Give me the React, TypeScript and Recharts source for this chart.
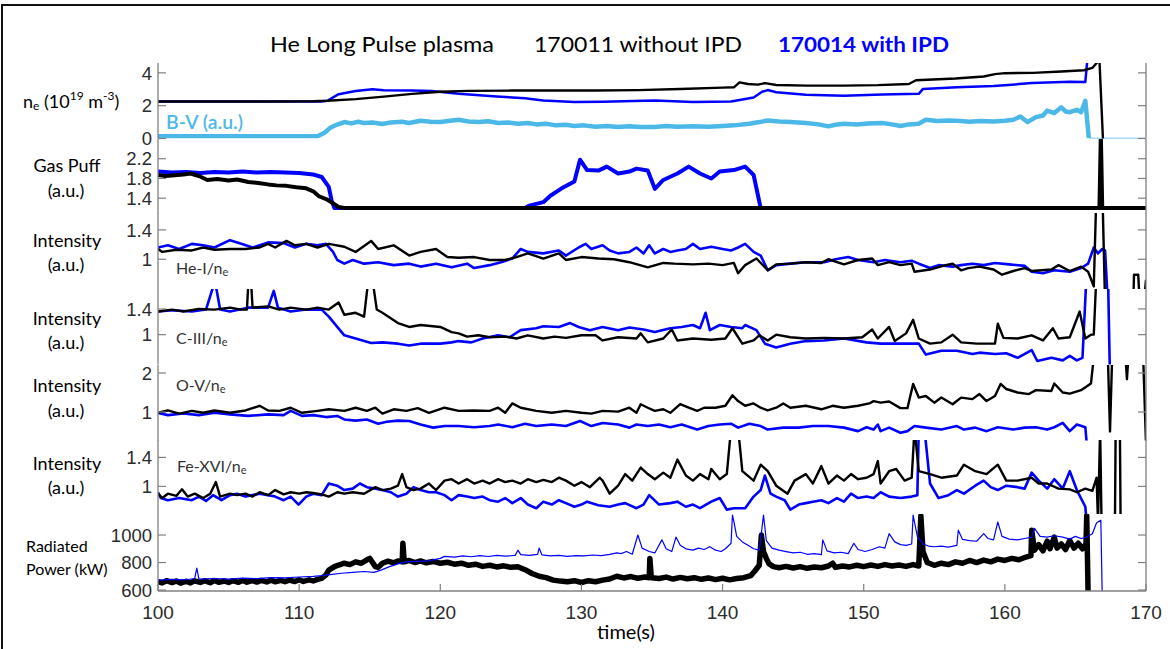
import React from 'react';
import { LineChart, Line, XAxis, YAxis } from 'recharts';

type Pts = [number, number][];

const timeTicks = [100, 110, 120, 130, 140, 150, 160, 170];

const neTicks = [0, 2, 4];
const gasTicks = [1.4, 1.8, 2.2];
const heTicks = [1, 1.4];
const cTicks = [1, 1.4];
const oTicks = [1, 2];
const feTicks = [1, 1.4];
const radTicks = [600, 800, 1000];

const neBlack: Pts = [[100,2.25],[105,2.25],[111,2.27],[112,2.3],[114,2.4],[116,2.55],[118,2.72],[120,2.85],[122,2.9],[125,2.92],[128,2.92],[131,2.92],[134,2.95],[137,3.02],[140,3.1],[140.8,3.12],[141.2,3.42],[141.8,3.32],[142.5,3.28],[143,3.37],[143.8,3.26],[146,3.22],[148.6,3.22],[151,3.25],[153.2,3.32],[153.7,3.55],[156.5,3.66],[158.5,3.78],[159.3,3.92],[160,3.98],[162,4.0],[164,4.08],[165.6,4.16],[166.2,4.3],[166.5,4.6],[166.7,4.8],[167.0,-1]];
const neBlue: Pts = [[100,2.25],[111.5,2.25],[112,2.3],[112.8,2.7],[114,2.9],[115.2,3.0],[116,2.94],[118,2.92],[119.4,2.9],[121.3,2.72],[124,2.56],[126,2.45],[127.3,2.32],[129.5,2.22],[131.5,2.24],[135.2,2.32],[137.9,2.22],[140.6,2.25],[142.2,2.5],[142.8,2.85],[143.2,2.95],[143.8,2.82],[145.9,2.66],[148.6,2.6],[151.3,2.68],[153.9,2.72],[154.2,3.02],[156.6,3.12],[159.2,3.2],[160.5,3.28],[161.9,3.38],[164.6,3.46],[165.7,3.44],[165.8,4.4],[165.9,5.2]];
const bvBlue: Pts = [[100,0.14],[105,0.14],[111.3,0.14],[111.8,0.35],[112.2,0.65],[112.7,0.85],[113.2,1.0],[113.7,0.92],[114.2,1.02],[114.6,0.94],[115.2,0.98],[115.9,0.88],[116.5,0.98],[117.3,1.02],[117.8,0.94],[118.6,1.08],[119.3,1.02],[120.0,1.0],[120.7,1.08],[121.3,1.14],[122.0,1.04],[122.7,1.0],[123.4,1.05],[124.1,0.94],[124.8,0.98],[125.5,0.9],[126.2,0.94],[126.8,0.86],[127.5,0.9],[128.2,0.8],[128.9,0.84],[129.5,0.76],[130.2,0.8],[131.0,0.72],[131.8,0.76],[132.6,0.7],[133.4,0.74],[134.2,0.7],[135.2,0.7],[136.0,0.76],[136.8,0.72],[137.9,0.74],[139.0,0.72],[140.0,0.76],[140.8,0.8],[141.9,0.9],[142.6,1.0],[143.2,1.1],[144.0,1.04],[144.8,1.0],[145.9,0.94],[146.8,0.86],[147.5,0.74],[148.0,0.84],[148.6,0.9],[149.5,0.86],[150.3,0.92],[151.3,0.94],[152.0,0.86],[152.6,0.76],[153.2,0.86],[153.9,0.9],[154.4,1.14],[155.2,1.06],[156.0,1.1],[156.6,1.08],[157.5,1.02],[158.3,1.06],[159.2,1.04],[160.0,1.08],[160.6,1.14],[161.1,1.34],[161.6,1.0],[162.2,1.3],[162.7,1.4],[163.0,1.7],[163.5,1.55],[164.0,1.9],[164.3,1.65],[164.6,1.6],[165.1,1.75],[165.4,1.6],[165.7,2.3],[165.95,0.03]];
const bvTail: Pts = [[165.95,0.0],[170,0.0]];

const gasBlack: Pts = [[100,1.87],[100.5,1.85],[101,1.86],[101.8,1.88],[102.3,1.9],[102.9,1.85],[103.5,1.77],[104.2,1.79],[105,1.76],[105.6,1.78],[106.4,1.73],[107.1,1.71],[107.8,1.68],[108.4,1.66],[109.1,1.65],[109.8,1.62],[110.5,1.6],[111,1.54],[111.4,1.44],[112,1.37],[112.5,1.28],[112.8,1.22],[113.2,1.2],[166.7,1.2],[166.8,2.7],[166.9,1.2],[170,1.2]];
const gasBlue: Pts = [[100,1.94],[101,1.92],[102,1.93],[103,1.91],[104,1.93],[105,1.92],[106,1.94],[107,1.92],[108,1.93],[109,1.92],[110,1.91],[111,1.88],[111.6,1.83],[112.1,1.63],[112.3,1.35],[112.5,1.2],[126,1.2],[126.3,1.25],[127.3,1.32],[127.8,1.45],[128.6,1.6],[129.5,1.74],[129.9,2.18],[130.4,1.97],[131.2,1.96],[131.8,2.04],[132.6,1.9],[133.4,1.94],[133.9,2.0],[134.7,1.96],[135.2,1.59],[135.8,1.77],[136.8,1.9],[137.6,2.04],[138.4,1.9],[139.2,1.8],[139.8,1.94],[140.8,1.97],[141.6,2.04],[142.2,1.87],[142.7,1.2],[166,1.2]];

const heBlack: Pts = [[100,1.14],[100.3,1.10],[101.3,1.13],[102.4,1.12],[103.2,1.16],[104.0,1.13],[105.1,1.14],[106.2,1.14],[107.2,1.16],[107.8,1.21],[108.3,1.16],[109.1,1.25],[109.7,1.19],[110.5,1.21],[111.3,1.16],[112.1,1.21],[113.2,1.17],[114.0,1.10],[115.1,1.25],[115.6,1.14],[116.7,1.19],[117.8,1.05],[118.6,1.10],[119.7,1.14],[120.5,1.03],[121.3,1.02],[122.4,1.03],[123.5,0.99],[124.6,0.99],[125.4,1.03],[126.2,1.08],[127.3,1.01],[128.4,1.08],[128.9,0.99],[130.0,1.03],[131.2,1.01],[132.3,1.0],[133.4,0.96],[134.7,0.89],[135.8,0.95],[136.6,0.94],[137.9,0.93],[139.0,0.94],[140.0,0.92],[140.8,0.95],[141.1,0.81],[141.6,0.92],[142.4,1.01],[143.2,0.85],[143.8,0.93],[144.8,0.94],[145.9,0.96],[147.0,0.95],[147.5,1.0],[148.6,0.93],[149.6,0.99],[150.6,1.01],[151.0,0.92],[151.8,0.96],[152.6,0.92],[153.4,0.94],[153.6,0.83],[154.7,0.86],[155.8,0.92],[156.3,0.94],[156.9,0.85],[157.4,0.88],[158.2,0.9],[159.2,0.86],[159.8,0.79],[160.6,0.84],[161.4,0.88],[161.9,0.84],[163.3,0.86],[163.8,0.92],[164.6,0.84],[165.4,0.9],[165.9,0.83],[166.3,0.63],[166.5,2.0],[166.9,2.0],[167.1,0.4],[169.1,0.4],[169.15,0.79],[169.45,0.79],[169.55,0.4],[169.85,0.4],[170,0.72]];
const heBlue: Pts = [[100,1.16],[100.7,1.19],[101.5,1.14],[102.4,1.21],[103.2,1.19],[104.0,1.16],[105.1,1.26],[105.9,1.21],[106.7,1.16],[107.8,1.23],[108.9,1.22],[109.7,1.16],[110.5,1.21],[111.3,1.19],[111.9,1.21],[112.4,1.10],[112.7,0.99],[113.2,0.94],[113.8,0.99],[114.6,0.94],[115.6,0.96],[116.7,0.92],[117.8,0.94],[118.6,0.9],[119.7,0.94],[120.8,0.89],[121.9,0.94],[122.4,0.88],[123.5,0.92],[124.3,0.96],[125.1,1.01],[125.7,1.14],[126.2,1.10],[127.3,1.08],[128.4,1.12],[128.9,1.05],[129.8,1.16],[130.3,1.21],[130.7,1.14],[131.5,1.19],[132.0,1.12],[132.6,1.08],[133.4,1.10],[133.9,1.16],[134.4,1.08],[134.8,1.19],[135.2,1.08],[135.8,1.14],[136.3,1.10],[136.8,1.12],[137.4,1.14],[137.9,1.21],[138.4,1.14],[139.2,1.17],[140.0,1.14],[140.6,1.12],[141.1,1.16],[141.6,1.21],[142.2,1.10],[142.7,1.05],[143.2,0.85],[143.8,0.92],[144.8,0.94],[145.9,0.96],[147.2,0.96],[148.0,1.0],[148.9,1.03],[149.6,0.99],[150.7,0.96],[151.5,0.99],[152.6,0.96],[153.4,0.98],[153.9,0.94],[154.7,0.88],[155.3,0.92],[156.3,0.9],[156.9,0.92],[157.7,0.94],[158.5,0.92],[159.3,0.95],[160.3,0.93],[161.4,0.91],[161.9,0.83],[162.7,0.81],[163.5,0.85],[164.6,0.83],[165.4,0.88],[165.9,0.94],[166.3,1.16],[166.6,1.08],[166.9,1.14],[167.1,1.12],[167.3,0.4]];

const cBlack: Pts = [[100,1.36],[101.0,1.39],[101.8,1.36],[102.9,1.40],[104.0,1.39],[105.1,1.42],[105.9,1.39],[106.3,1.39],[106.4,1.8],[106.6,1.8],[106.7,1.42],[107.8,1.44],[108.6,1.39],[109.4,1.42],[110.5,1.39],[111.3,1.42],[112.1,1.39],[112.8,1.5],[113.2,1.31],[114.0,1.34],[114.6,1.28],[114.9,1.85],[115.2,1.85],[115.5,1.39],[115.9,1.34],[117.0,1.18],[117.8,1.12],[118.6,1.15],[120.0,1.12],[120.8,1.04],[121.3,1.02],[121.9,0.97],[122.7,0.99],[123.5,0.96],[124.6,0.97],[125.4,0.94],[126.2,0.99],[127.3,0.94],[128.1,0.97],[128.9,0.95],[130.0,0.99],[131.0,0.99],[131.5,0.91],[132.6,0.96],[133.9,0.94],[134.2,1.02],[134.7,0.88],[135.8,0.94],[136.4,1.08],[136.8,0.91],[137.9,0.94],[139.2,0.92],[140.2,0.94],[140.7,1.1],[141.4,0.86],[142.2,0.91],[142.6,0.99],[143.2,0.91],[143.8,1.0],[144.8,0.96],[145.9,0.94],[147.2,0.95],[148.6,0.94],[149.9,0.96],[150.6,1.08],[151.0,0.94],[151.8,1.12],[152.2,0.9],[153.0,1.02],[153.5,1.23],[153.9,0.94],[154.7,0.86],[155.5,0.88],[156.3,1.0],[156.9,0.88],[158.0,0.86],[159.3,0.86],[159.5,1.17],[159.9,0.95],[160.9,0.94],[161.9,0.99],[162.7,0.91],[163.4,1.1],[163.8,0.94],[164.6,0.96],[165.3,1.36],[165.7,0.94],[166.1,1.0],[166.3,1.0],[166.5,2.0]];
const cBlue: Pts = [[100,1.36],[101.0,1.38],[102.4,1.36],[103.4,1.39],[103.9,1.74],[104.1,1.76],[104.4,1.39],[105.1,1.36],[106.4,1.42],[107.8,1.42],[108.2,1.68],[108.5,1.42],[109.4,1.36],[110.5,1.39],[111.6,1.39],[112.1,1.28],[112.7,1.12],[113.2,0.99],[114.0,0.94],[115.1,0.87],[115.9,0.88],[117.0,0.86],[117.8,0.83],[118.6,0.86],[120.0,0.86],[120.8,0.88],[121.3,0.9],[122.2,0.88],[123.0,0.94],[124.1,0.99],[124.9,0.96],[125.7,1.07],[126.8,1.1],[127.3,1.13],[128.4,1.12],[129.2,1.18],[129.8,1.12],[130.6,1.07],[131.5,1.12],[132.6,1.07],[133.4,1.11],[134.4,1.08],[135.2,1.04],[136.3,1.1],[137.1,1.12],[137.9,1.15],[138.4,1.1],[138.8,1.34],[139.1,1.07],[139.8,1.15],[140.6,1.12],[141.4,1.1],[141.6,1.15],[142.4,1.07],[143.0,0.86],[143.8,0.8],[144.8,0.86],[145.9,0.9],[147.2,0.91],[148.6,0.94],[150.2,0.88],[151.2,0.86],[152.6,0.86],[153.9,0.86],[154.4,0.69],[155.5,0.75],[156.6,0.75],[157.7,0.7],[158.2,0.72],[159.3,0.7],[160.1,0.71],[160.9,0.64],[161.9,0.76],[162.3,0.59],[163.3,0.64],[164.1,0.6],[164.6,0.67],[165.1,0.6],[165.5,0.64],[165.8,2.0],[167.3,2.0],[167.45,0.3]];

const oBlack: Pts = [[100,0.98],[100.7,1.04],[101.5,0.96],[102.4,1.03],[103.2,0.98],[104.0,1.04],[105.1,0.98],[106.2,1.04],[107.2,1.16],[107.8,1.04],[108.6,1.03],[109.4,1.11],[110.2,0.98],[111.3,1.03],[112.1,1.07],[113.2,1.03],[114.0,1.11],[114.8,1.03],[115.4,1.11],[115.9,0.96],[116.7,1.07],[117.6,1.03],[118.4,1.1],[119.2,0.98],[120.3,1.11],[121.3,1.03],[122.4,1.04],[123.5,1.03],[124.1,1.11],[124.6,0.98],[125.1,1.22],[125.7,1.11],[126.8,1.03],[127.9,0.98],[128.9,1.03],[130.0,0.98],[130.7,0.96],[131.5,1.03],[132.6,1.01],[133.4,1.11],[133.9,0.98],[134.2,1.2],[134.7,1.11],[135.2,1.03],[135.8,1.07],[136.3,0.98],[137.0,1.2],[137.6,1.11],[138.2,1.03],[138.7,1.11],[139.5,1.11],[140.2,1.16],[140.7,1.43],[141.1,1.28],[141.6,1.16],[142.2,1.22],[142.7,1.11],[143.2,1.04],[143.8,1.11],[144.3,1.22],[144.8,1.11],[145.9,1.16],[147.0,1.07],[147.8,1.16],[148.6,1.11],[149.6,1.16],[150.4,1.22],[150.7,1.28],[151.2,1.24],[151.8,1.27],[152.6,1.1],[153.1,1.1],[153.5,1.72],[153.9,1.37],[154.4,1.41],[155.0,1.24],[155.5,1.37],[156.3,1.2],[156.9,1.37],[157.7,1.33],[158.2,1.46],[158.7,1.28],[159.3,1.41],[159.7,1.72],[160.1,1.59],[160.9,1.5],[161.7,1.46],[162.2,1.56],[163.3,1.54],[163.5,1.73],[164.1,1.5],[164.6,1.47],[165.4,1.56],[166.1,1.73],[166.3,2.4],[167.3,2.4],[167.45,0.5],[167.6,2.4],[168.55,2.4],[168.65,1.84],[168.75,2.4],[169.8,2.4],[170,0.2]];
const oBlue: Pts = [[100,0.98],[100.7,0.92],[101.8,0.96],[102.9,0.92],[104.0,0.98],[105.1,0.94],[106.4,0.9],[107.8,0.94],[108.9,0.92],[109.4,1.03],[110.2,0.9],[111.0,0.92],[111.9,0.87],[112.7,0.9],[113.2,0.81],[114.0,0.78],[114.8,0.81],[115.6,0.7],[116.2,0.75],[117.0,0.78],[117.8,0.77],[118.6,0.68],[119.5,0.6],[120.3,0.64],[121.3,0.64],[122.4,0.61],[123.5,0.64],[124.1,0.68],[125.1,0.61],[126.0,0.7],[126.8,0.64],[127.9,0.68],[128.9,0.64],[129.9,0.77],[130.7,0.64],[131.5,0.72],[132.6,0.68],[133.4,0.6],[133.9,0.68],[134.7,0.64],[135.5,0.68],[136.3,0.61],[137.1,0.68],[138.2,0.55],[139.0,0.64],[139.8,0.68],[140.6,0.7],[141.1,0.6],[141.9,0.7],[142.7,0.64],[143.2,0.55],[144.3,0.6],[145.4,0.6],[146.4,0.64],[147.5,0.64],[148.6,0.6],[149.6,0.51],[150.2,0.61],[150.7,0.55],[151.0,0.68],[151.2,0.51],[151.8,0.6],[152.6,0.47],[153.1,0.51],[153.6,0.64],[154.4,0.6],[155.5,0.55],[156.6,0.64],[157.1,0.55],[157.9,0.6],[158.7,0.51],[159.5,0.61],[160.6,0.55],[161.4,0.6],[162.2,0.61],[163.0,0.55],[163.5,0.61],[164.1,0.72],[164.6,0.51],[165.1,0.68],[165.7,0.61],[165.8,0.2]];

const feBlack: Pts = [[100,0.9],[100.3,0.84],[100.7,0.9],[101.3,0.87],[101.7,0.96],[102.1,0.86],[102.6,0.9],[103.2,0.84],[103.7,0.9],[104.1,1.06],[104.4,0.86],[105.1,0.9],[105.6,0.88],[106.2,0.9],[106.7,0.86],[107.2,0.92],[107.8,0.88],[108.3,0.95],[108.9,0.89],[109.4,0.92],[110.0,0.9],[110.5,0.92],[111.0,0.91],[111.6,0.89],[112.1,0.86],[112.7,0.92],[113.2,0.9],[113.8,0.92],[114.6,0.9],[115.4,0.99],[115.9,0.95],[116.5,0.97],[117.0,1.01],[117.3,1.17],[117.6,0.99],[118.1,0.95],[118.6,0.97],[119.2,1.04],[119.7,0.95],[120.3,1.08],[120.8,1.1],[121.3,1.04],[121.9,1.1],[122.4,1.04],[123.0,1.08],[123.5,1.04],[124.1,1.1],[124.6,1.06],[125.1,1.08],[125.7,1.04],[126.2,1.1],[126.8,1.06],[127.3,1.09],[127.9,1.06],[128.4,1.12],[128.9,1.08],[129.5,1.01],[130.0,1.06],[130.6,0.99],[131.3,1.12],[131.5,1.08],[132.0,0.9],[132.6,1.01],[133.1,1.17],[133.6,1.08],[134.2,1.26],[134.7,1.17],[135.2,1.1],[135.8,1.19],[136.3,1.12],[136.8,1.37],[137.4,1.15],[137.9,1.08],[138.4,1.17],[139.0,1.1],[139.2,1.24],[139.8,1.1],[140.3,1.17],[140.6,1.8],[141.1,1.8],[141.4,1.21],[142.2,1.08],[142.7,1.3],[143.2,1.21],[143.8,1.01],[144.6,0.9],[145.1,1.08],[145.9,1.17],[146.4,1.04],[147.0,1.28],[147.5,1.04],[148.1,1.15],[148.6,1.08],[149.1,1.17],[149.6,1.1],[150.2,1.12],[150.7,1.17],[151.0,1.35],[151.2,1.04],[151.8,1.21],[152.3,1.24],[152.9,1.08],[153.4,1.12],[153.6,1.8],[153.9,1.21],[154.7,1.17],[155.5,1.12],[156.6,1.15],[157.1,1.3],[157.9,1.21],[158.7,1.17],[159.5,1.3],[160.1,1.08],[160.9,1.08],[161.9,1.12],[162.4,1.04],[163.0,1.04],[163.8,0.97],[164.6,0.96],[165.1,0.92],[165.7,0.97],[166.2,0.94],[166.5,1.12],[166.6,0.5],[166.75,1.8],[166.85,0.5],[167.8,0.5],[167.85,1.8],[168.15,1.8],[168.2,0.5]];
const feBlue: Pts = [[100,0.92],[100.2,0.84],[100.7,0.81],[101.5,0.84],[102.4,0.81],[102.9,0.86],[103.4,0.8],[103.9,0.88],[104.5,0.81],[105.1,0.88],[105.6,0.9],[106.2,0.86],[106.7,0.88],[107.2,0.9],[107.8,0.88],[108.3,0.86],[108.9,0.81],[109.4,0.86],[109.96,0.75],[110.5,0.86],[111.0,0.9],[111.6,0.88],[112.1,1.04],[112.7,1.01],[113.2,0.95],[113.8,0.97],[114.3,1.04],[114.8,0.99],[115.4,0.97],[115.9,0.95],[116.5,0.92],[117.0,0.86],[117.6,0.9],[118.1,0.99],[118.6,0.95],[119.2,0.92],[119.7,0.92],[120.3,0.88],[120.8,0.81],[121.3,0.88],[121.9,0.86],[122.4,0.84],[123.0,0.86],[123.5,0.81],[124.1,0.79],[124.6,0.84],[125.1,0.77],[125.7,0.84],[126.2,0.75],[126.8,0.7],[127.3,0.79],[127.9,0.75],[128.4,0.81],[128.9,0.77],[129.5,0.72],[130.0,0.75],[130.4,0.79],[131.2,0.74],[132.0,0.72],[132.6,0.75],[133.1,0.77],[133.9,0.7],[134.4,0.75],[134.8,0.88],[135.5,0.75],[136.3,0.77],[136.8,0.79],[137.4,0.72],[137.9,0.75],[138.4,0.7],[139.2,0.79],[139.8,0.84],[140.3,0.68],[140.8,0.7],[141.6,0.7],[142.2,0.86],[142.7,0.95],[143.0,1.15],[143.4,0.9],[143.8,0.86],[144.4,0.81],[144.8,0.68],[145.4,0.75],[145.9,0.77],[146.4,0.79],[147.0,0.81],[147.5,0.77],[148.1,0.84],[148.6,0.79],[149.1,0.9],[149.6,0.84],[150.2,0.86],[150.7,0.84],[151.2,0.92],[151.8,0.86],[152.6,0.84],[153.4,0.86],[153.8,0.88],[153.9,1.8],[154.3,1.8],[154.7,1.04],[155.3,0.84],[156.0,0.88],[156.6,0.95],[157.1,0.9],[157.9,1.01],[158.5,1.08],[159.0,0.99],[159.5,0.95],[160.1,1.01],[160.9,0.99],[161.4,0.97],[161.9,1.19],[162.4,1.08],[163.0,0.97],[163.5,1.1],[164.1,0.97],[164.6,1.21],[165.1,0.95],[165.7,0.72],[165.8,0.5]];

const radBlack: Pts = [[100,662],[100.3,652],[100.6,668],[101,654],[101.3,666],[101.6,650],[102,664],[102.3,652],[102.6,667],[103,655],[103.3,668],[103.7,653],[104,670],[104.3,656],[104.7,666],[105,655],[105.3,668],[105.7,656],[106,670],[106.3,657],[106.7,668],[107,658],[107.3,670],[107.7,659],[108,672],[108.3,660],[108.7,671],[109,661],[109.3,672],[109.7,662],[110,675],[110.3,663],[110.7,674],[111,666],[111.3,678],[111.6,685],[111.9,710],[112.1,745],[112.5,770],[112.8,782],[113.2,795],[113.6,785],[114,805],[114.4,795],[114.8,820],[115.0,830],[115.2,800],[115.4,770],[115.6,765],[115.9,795],[116.3,810],[116.7,798],[117.0,812],[117.3,805],[117.35,940],[117.45,805],[117.8,815],[118.2,800],[118.6,812],[119.0,798],[119.5,808],[120.0,795],[120.5,802],[121.0,788],[121.5,795],[122.0,780],[122.5,788],[123.0,772],[123.5,780],[124.0,768],[124.5,776],[125.0,765],[125.5,770],[126.0,748],[126.5,720],[127.0,700],[127.5,690],[128.0,672],[128.5,665],[129.0,660],[129.5,668],[130.0,655],[130.5,668],[131.0,660],[131.5,672],[132.0,680],[132.5,700],[133.0,688],[133.5,698],[134.0,686],[134.5,695],[134.8,690],[134.85,830],[134.95,690],[135.5,684],[136.0,694],[136.5,680],[137.0,692],[137.5,682],[138.0,690],[138.5,678],[139.0,688],[139.5,676],[140.0,686],[140.5,674],[141.0,684],[141.5,690],[142.0,705],[142.3,740],[142.6,780],[142.75,1000],[142.9,880],[143.1,830],[143.3,790],[143.6,770],[144.0,762],[144.5,772],[145.0,760],[145.5,770],[146.0,758],[146.5,768],[147.0,762],[147.5,775],[147.8,795],[148.0,765],[148.5,775],[149.0,768],[149.5,780],[150.0,770],[150.5,782],[151.0,772],[151.5,785],[152.0,775],[152.5,782],[153.0,772],[153.5,785],[153.9,775],[154.05,1140],[154.2,880],[154.5,800],[155.0,780],[155.5,795],[156.0,785],[156.5,805],[157.0,795],[157.5,815],[158.0,800],[158.5,818],[159.0,805],[159.5,825],[160.0,815],[160.5,830],[161.0,820],[161.5,840],[161.85,850],[161.9,1035],[162.1,890],[162.4,930],[162.7,885],[163.0,955],[163.2,900],[163.5,985],[163.7,905],[164.0,935],[164.3,895],[164.6,960],[164.9,905],[165.2,940],[165.5,900],[165.75,935],[165.8,1140],[165.9,560]];
const radBlue: Pts = [[100,672],[101,678],[102,675],[102.6,684],[102.75,760],[102.9,680],[104,684],[105,680],[106,686],[107,683],[108,690],[109,688],[110,695],[111,700],[111.6,705],[112.2,712],[113,722],[113.8,728],[114.6,735],[115.3,728],[115.8,745],[116.4,770],[117.0,790],[117.6,805],[118.4,808],[119.2,812],[120.0,830],[120.3,845],[121.0,840],[121.6,848],[122.2,842],[122.8,850],[123.4,844],[124.0,852],[124.6,846],[125.3,852],[125.5,890],[125.7,858],[126.3,852],[126.9,860],[127.0,905],[127.2,856],[127.8,848],[128.4,852],[129.0,845],[129.6,850],[130.2,848],[130.8,855],[131.4,850],[132.0,860],[132.5,870],[132.8,865],[133.2,880],[133.6,860],[134.0,1000],[134.3,905],[134.8,880],[135.2,870],[135.7,965],[136.0,900],[136.4,880],[136.7,985],[137.0,925],[137.4,900],[137.9,890],[138.3,905],[138.7,895],[139.1,915],[139.5,890],[139.9,880],[140.2,900],[140.6,940],[140.7,1145],[140.8,1100],[141.0,990],[141.4,950],[141.8,925],[142.2,900],[142.6,890],[142.9,1145],[143.1,960],[143.5,905],[144.0,890],[144.5,880],[145.0,870],[145.5,875],[146.0,860],[146.5,865],[147.0,858],[147.1,965],[147.4,885],[147.9,870],[148.4,875],[148.9,865],[149.3,940],[149.6,895],[150.1,880],[150.6,895],[151.1,915],[151.5,905],[151.8,1010],[152.2,950],[152.6,930],[153.0,925],[153.4,935],[153.5,1145],[153.8,990],[154.2,935],[154.6,920],[155.0,915],[155.5,920],[156.0,912],[156.6,925],[156.7,1035],[157.0,968],[157.5,960],[158.0,955],[158.5,1010],[158.8,975],[159.2,965],[159.5,1095],[159.8,990],[160.3,970],[160.9,965],[161.4,975],[161.9,985],[162.1,1048],[162.5,990],[163.0,985],[163.5,995],[164.1,985],[164.6,970],[165.0,990],[165.4,975],[165.8,985],[166.2,1010],[166.5,1090],[166.8,1108],[166.9,550]];

const BLUE = '#0000ff';
const BLACK = '#000000';
const LIGHT = '#4cb8e8';
const FRAME = '#808080';
const TICKFONT = "'Liberation Sans', Arial, sans-serif";
const LABELFONT = "Lato, 'Open Sans', sans-serif";

type Series = { key: string; data: Pts; color: string; width: number };
type Panel = { id: string; top: number; bottom: number; domain: [number, number]; ticks: number[]; series: Series[]; last?: boolean };

const panels: Panel[] = [
  { id: 'ne', top: 63, bottom: 138.5, domain: [0, 4.6], ticks: neTicks, series: [
    { key: 'bv', data: bvBlue, color: LIGHT, width: 4.5 },
    { key: 'bvt', data: bvTail, color: LIGHT, width: 1.5 },
    { key: 'nb', data: neBlue, color: BLUE, width: 2.5 },
    { key: 'nk', data: neBlack, color: BLACK, width: 2.4 },
  ] },
  { id: 'gas', top: 138.5, bottom: 213, domain: [1.09, 2.6], ticks: gasTicks, series: [
    { key: 'gb', data: gasBlue, color: BLUE, width: 4 },
    { key: 'gk', data: gasBlack, color: BLACK, width: 4 },
  ] },
  { id: 'he', top: 213, bottom: 289, domain: [0.595, 1.63], ticks: heTicks, series: [
    { key: 'hb', data: heBlue, color: BLUE, width: 2.6 },
    { key: 'hk', data: heBlack, color: BLACK, width: 2.4 },
  ] },
  { id: 'c', top: 289, bottom: 364.5, domain: [0.536, 1.71], ticks: cTicks, series: [
    { key: 'cb', data: cBlue, color: BLUE, width: 2.6 },
    { key: 'ck', data: cBlack, color: BLACK, width: 2.4 },
  ] },
  { id: 'o', top: 364.5, bottom: 440, domain: [0.27, 2.205], ticks: oTicks, series: [
    { key: 'ob', data: oBlue, color: BLUE, width: 2.6 },
    { key: 'ok', data: oBlack, color: BLACK, width: 2.4 },
  ] },
  { id: 'fe', top: 440, bottom: 514, domain: [0.62, 1.64], ticks: feTicks, series: [
    { key: 'fb', data: feBlue, color: BLUE, width: 2.6 },
    { key: 'fk', data: feBlack, color: BLACK, width: 2.4 },
  ] },
  { id: 'rad', top: 514, bottom: 591, domain: [593, 1153], ticks: radTicks, last: true, series: [
    { key: 'rk', data: radBlack, color: BLACK, width: 5.5 },
    { key: 'rb', data: radBlue, color: BLUE, width: 1.2 },
  ] },
];

const toData = (p: Pts) => p.map(([t, v]) => ({ t, v }));

const LeftTick = (props: any) => {
  const { x, y, payload } = props;
  return (
    <g>
      <line x1={x} x2={x + 8} y1={y} y2={y} stroke={FRAME} strokeWidth={1.2} />
      <text x={x - 6} y={y} dy="0.36em" textAnchor="end" fontFamily={TICKFONT} fontSize={18.5} fill="#2b2b2b">{String(payload.value)}</text>
    </g>
  );
};
const RightTick = (props: any) => {
  const { x, y } = props;
  return <line x1={x - 8} x2={x} y1={y} y2={y} stroke={FRAME} strokeWidth={1.2} />;
};
const makeBottomTick = (labels: boolean) => (props: any) => {
  const { x, y, payload } = props;
  return (
    <g>
      <line x1={x} x2={x} y1={y} y2={y - 7} stroke={FRAME} strokeWidth={1.2} />
      {labels ? (
        <text x={x} y={y + 21} dy="0.36em" textAnchor="middle" fontFamily={TICKFONT} fontSize={19} fill="#2b2b2b">{String(payload.value)}</text>
      ) : null}
    </g>
  );
};
const TopTick = (props: any) => {
  const { x, y } = props;
  return <line x1={x} x2={x} y1={y} y2={y + 7} stroke={FRAME} strokeWidth={1.2} />;
};

const PAD = 12;

const PanelChart = ({ p }: { p: Panel }) => {
  const h = p.bottom - p.top;
  const xh = p.last ? 45 : 0;
  const padBottom = p.last ? 0 : PAD;
  const bottomTick = makeBottomTick(!!p.last);
  return (
    <div style={{ position: 'absolute', left: 0, top: p.top - PAD }}>
      <LineChart width={1170} height={h + PAD + padBottom + xh} margin={{ top: PAD, right: 0, bottom: padBottom, left: 0 }}>
        <XAxis xAxisId="b" dataKey="t" type="number" domain={[100, 170]} ticks={timeTicks} interval={0} allowDataOverflow
          orientation="bottom" height={xh} tickSize={0} tickMargin={0} tickLine={false}
          axisLine={{ stroke: FRAME, strokeWidth: 1.3 }} tick={bottomTick} />
        <XAxis xAxisId="t" dataKey="t" type="number" domain={[100, 170]} ticks={timeTicks} interval={0} allowDataOverflow
          orientation="top" height={0} tickSize={0} tickMargin={0} tickLine={false}
          axisLine={{ stroke: FRAME, strokeWidth: 1.3 }} tick={TopTick} />
        <YAxis yAxisId="l" type="number" domain={p.domain} ticks={p.ticks} interval={0} allowDataOverflow
          orientation="left" width={158} tickSize={0} tickMargin={0} tickLine={false}
          axisLine={{ stroke: FRAME, strokeWidth: 1.3 }} tick={LeftTick} />
        <YAxis yAxisId="r" type="number" domain={p.domain} ticks={p.ticks} interval={0} allowDataOverflow
          orientation="right" width={24} tickSize={0} tickMargin={0} tickLine={false}
          axisLine={{ stroke: FRAME, strokeWidth: 1.3 }} tick={RightTick} />
        {p.series.map((s) => (
          <Line key={s.key} xAxisId="b" yAxisId="l" data={toData(s.data)} dataKey="v" type="linear"
            stroke={s.color} strokeWidth={s.width} dot={false} activeDot={false} strokeLinejoin="round"
            isAnimationActive={false} />
        ))}
      </LineChart>
    </div>
  );
};

const Sub = ({ children }: { children: React.ReactNode }) => (
  <tspan fontSize={11} dy={4}>{children}</tspan>
);

const Overlay = () => (
  <svg width={1170} height={649} style={{ position: 'absolute', left: 0, top: 0, pointerEvents: 'none' }}>
    <line x1={2} y1={5} x2={1170} y2={5} stroke="#111" strokeWidth={2} />
    <line x1={2} y1={4} x2={2} y2={649} stroke="#111" strokeWidth={2} />
    <g fontFamily={LABELFONT} dominantBaseline="central">
      <text x={270} y={43} fontSize={21} fill="#000" textLength={224} lengthAdjust="spacingAndGlyphs">He Long Pulse plasma</text>
      <text x={534} y={43} fontSize={21} fill="#000" textLength={208} lengthAdjust="spacingAndGlyphs">170011 without IPD</text>
      <text x={778} y={43} fontSize={21} fill={BLUE} fontWeight={700} textLength={171} lengthAdjust="spacingAndGlyphs">170014 with IPD</text>

      <text x={23} y={101} fontSize={18} fill="#000">n<tspan fontSize={12} dy={4}>e</tspan><tspan dy={-4}> (10</tspan><tspan fontSize={12} dy={-6}>19</tspan><tspan dy={6}> m</tspan><tspan fontSize={12} dy={-6}>-3</tspan><tspan dy={6}>)</tspan></text>
      <text x={166} y={121} fontSize={19} fontWeight={600} fill={LIGHT} textLength={77} lengthAdjust="spacingAndGlyphs">B-V (a.u.)</text>

      <text x={67} y={165} fontSize={18} textAnchor="middle" fill="#000">Gas Puff</text>
      <text x={66} y={190} fontSize={18} textAnchor="middle" fill="#000">(a.u.)</text>

      <text x={67} y={240} fontSize={18} textAnchor="middle" fill="#000">Intensity</text>
      <text x={66} y={264} fontSize={18} textAnchor="middle" fill="#000">(a.u.)</text>
      <text x={67} y={318} fontSize={18} textAnchor="middle" fill="#000">Intensity</text>
      <text x={66} y={342} fontSize={18} textAnchor="middle" fill="#000">(a.u.)</text>
      <text x={67} y={385} fontSize={18} textAnchor="middle" fill="#000">Intensity</text>
      <text x={66} y={410} fontSize={18} textAnchor="middle" fill="#000">(a.u.)</text>
      <text x={67} y={463} fontSize={18} textAnchor="middle" fill="#000">Intensity</text>
      <text x={66} y={487} fontSize={18} textAnchor="middle" fill="#000">(a.u.)</text>

      <text x={26} y={545} fontSize={16} fill="#000">Radiated</text>
      <text x={26} y={568} fontSize={16} fill="#000">Power (kW)</text>

      <text x={176} y={267} fontSize={16} fill="#333">He-I/n<Sub>e</Sub></text>
      <text x={176} y={337} fontSize={16} fill="#333">C-III/n<Sub>e</Sub></text>
      <text x={176} y={384} fontSize={16} fill="#333">O-V/n<Sub>e</Sub></text>
      <text x={177} y={465} fontSize={16} fill="#333">Fe-XVI/n<Sub>e</Sub></text>

      <text x={626} y={631} fontSize={20} textAnchor="middle" fill="#000">time(s)</text>
    </g>
  </svg>
);

export default function App() {
  return (
    <div style={{ position: 'absolute', left: 0, top: 0, width: 1170, height: 649, background: '#fff', overflow: 'hidden' }}>
      {panels.map((p) => <PanelChart key={p.id} p={p} />)}
      <Overlay />
    </div>
  );
}
